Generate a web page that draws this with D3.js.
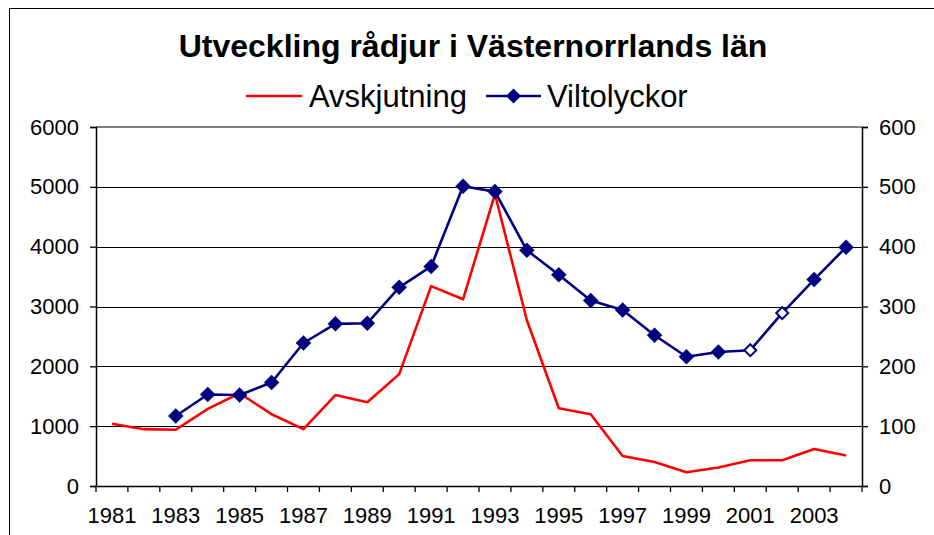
<!DOCTYPE html>
<html>
<head>
<meta charset="utf-8">
<script src="https://cdn.jsdelivr.net/npm/d3@7"></script>
<style>
  html, body { margin: 0; padding: 0; background: #fff; }
  svg { display: block; }
  text { font-family: "Liberation Sans", Arial, sans-serif; fill: #000; }
</style>
</head>
<body>
<svg id="chart" width="934" height="535"></svg>
<script>
const years = [1981,1982,1983,1984,1985,1986,1987,1988,1989,1990,1991,1992,1993,1994,1995,1996,1997,1998,1999,2000,2001,2002,2003,2004];
const avskjutning = [1040,950,940,1290,1550,1200,950,1520,1400,1870,3340,3120,4880,2770,1300,1200,500,400,230,310,430,430,620,510];
const viltolyckor = [null,null,117,153,152,173,239,271,272,332,367,501,492,394,353,310,294,252,216,224,227,289,345,399];
const hollowYears = [2001,2002];
const leftTicks = [0,1000,2000,3000,4000,5000,6000];
const rightTicks = [0,100,200,300,400,500,600];
const xLabelYears = [1981,1983,1985,1987,1989,1991,1993,1995,1997,1999,2001,2003];
const title = "Utveckling rådjur i Västernorrlands län";
const seriesNames = ["Avskjutning","Viltolyckor"];

const svg = d3.select("#chart");
const L = 96, R = 862, T = 127, B = 486;

// outer frame
svg.append("rect").attr("x",9.5).attr("y",8.5).attr("width",940).attr("height",540)
  .attr("fill","none").attr("stroke","#000").attr("stroke-width",1);

const x = d3.scaleBand().domain(years).range([L,R]).padding(0);
const yL = d3.scaleLinear().domain([0,6000]).range([B,T]);
const yR = d3.scaleLinear().domain([0,600]).range([B,T]);

// gridlines
svg.append("g").selectAll("line").data(leftTicks.filter(d=>d>0 && d<6000)).join("line")
  .attr("x1",L).attr("x2",R).attr("y1",d=>Math.round(yL(d))+0.5).attr("y2",d=>Math.round(yL(d))+0.5)
  .attr("stroke","#000").attr("stroke-width",1);
// plot area top border
svg.append("line").attr("x1",L).attr("x2",R).attr("y1",T).attr("y2",T)
  .attr("stroke","#808080").attr("stroke-width",2);

// left axis
const gL = svg.append("g").attr("transform",`translate(${L},0)`)
  .call(d3.axisLeft(yL).tickValues(leftTicks).tickSize(6).tickPadding(11).tickFormat(d3.format("d")));
// right axis
const gR = svg.append("g").attr("transform",`translate(${R},0)`)
  .call(d3.axisRight(yR).tickValues(rightTicks).tickSize(6).tickPadding(11).tickFormat(d3.format("d")));
// bottom axis
const gB = svg.append("g").attr("transform",`translate(0,${B})`)
  .call(d3.axisBottom(x).tickValues(xLabelYears).tickSize(0).tickPadding(21));
// boundary ticks on x axis
const bounds = years.map(y=>x(y)).concat([R]);
svg.append("g").selectAll("line").data(bounds).join("line")
  .attr("x1",d=>d).attr("x2",d=>d).attr("y1",B).attr("y2",B+6)
  .attr("stroke","#000").attr("stroke-width",1.3);

[gL,gR,gB].forEach(g=>{
  g.selectAll(".domain").attr("stroke","#000").attr("stroke-width",1.5);
  g.selectAll(".tick line").attr("stroke","#000").attr("stroke-width",1.3);
  g.selectAll("text").style("font-size","22px").style("font-family","'Liberation Sans', Arial, sans-serif").attr("fill","#000");
});
gB.select(".domain").attr("d",`M${L},0.5H${R}`);

const cx = d => x(d) + x.bandwidth()/2;

// red line
const redLine = d3.line().x((d,i)=>cx(years[i])).y(d=>yL(d));
svg.append("path").datum(avskjutning).attr("d",redLine)
  .attr("fill","none").attr("stroke","#ff0000").attr("stroke-width",2.6).attr("stroke-linejoin","round");

// blue line
const blueData = years.map((y,i)=>({year:y,v:viltolyckor[i]})).filter(d=>d.v!==null);
const blueLine = d3.line().x(d=>cx(d.year)).y(d=>yR(d.v));
svg.append("path").datum(blueData).attr("d",blueLine)
  .attr("fill","none").attr("stroke","#000080").attr("stroke-width",2.6).attr("stroke-linejoin","round");

const diamond = (s)=>`M0,${-s}L${s},0L0,${s}L${-s},0Z`;
svg.append("g").selectAll("path").data(blueData).join("path")
  .attr("transform",d=>`translate(${cx(d.year)},${yR(d.v)})`)
  .attr("d",d=>hollowYears.includes(d.year)?diamond(6):diamond(7.5))
  .attr("fill",d=>hollowYears.includes(d.year)?"#fff":"#000080")
  .attr("stroke","#000080").attr("stroke-width",d=>hollowYears.includes(d.year)?2:0.5);

// title
svg.append("text").attr("x",473).attr("y",57).attr("text-anchor","middle")
  .style("font-size","32px").style("font-weight","bold").text(title);

// legend
const lg = svg.append("g");
lg.append("line").attr("x1",246).attr("x2",302).attr("y1",96).attr("y2",96)
  .attr("stroke","#ff0000").attr("stroke-width",2.6);
lg.append("text").attr("x",309).attr("y",107).style("font-size","31px").text(seriesNames[0]);
lg.append("line").attr("x1",486).attr("x2",541).attr("y1",96).attr("y2",96)
  .attr("stroke","#000080").attr("stroke-width",2.6);
lg.append("path").attr("transform","translate(513.5,96)").attr("d",diamond(7.5)).attr("fill","#000080");
lg.append("text").attr("x",547).attr("y",107).style("font-size","31px").text(seriesNames[1]);
</script>
</body>
</html>
